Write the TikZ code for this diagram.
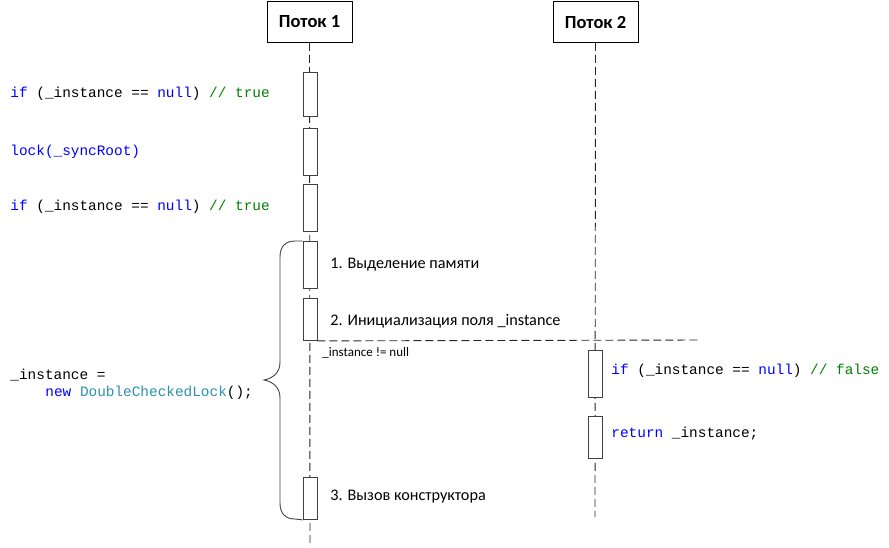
\documentclass[tikz,border=0pt]{standalone}
\usepackage{fontspec}
\setmainfont{Carlito}
\setmonofont{Liberation Mono}
\usetikzlibrary{positioning}
\definecolor{kword}{RGB}{0,0,255}
\definecolor{cmnt}{RGB}{0,128,0}
\definecolor{ctype}{RGB}{43,145,175}
\newcommand{\kw}[1]{\textcolor{kword}{#1}}
\newcommand{\cm}[1]{\textcolor{cmnt}{#1}}
\newcommand{\ty}[1]{\textcolor{ctype}{#1}}

\begin{document}
\begin{tikzpicture}[x=1pt,y=-1pt,line width=0.9pt]
	%
	% `thread' is the head box of a lifeline.
	% `act' is an activation box on a lifeline.
	% `life' is for the dashed lifelines and the sync line.
	\tikzstyle{thread} = [draw,fill=white,minimum width=85pt,minimum height=41pt,font=\fontsize{18.5}{22}\selectfont\bfseries]
	\tikzstyle{act} = [draw=black!75,fill=white,minimum width=14pt,inner sep=0pt,anchor=north]
	\tikzstyle{life} = [draw=black!85,dash pattern=on 8pt off 4pt]
	\tikzstyle{code} = [anchor=west,inner sep=0pt,font=\ttfamily\fontsize{14.4}{17}\selectfont]
	\tikzstyle{stepnote} = [anchor=west,inner sep=0pt,font=\fontsize{16.2}{19}\selectfont]
	%
	\useasboundingbox (0,0) rectangle (889,547);
	%
	% Threads
	\node[thread] (head1) at (309.5,22) {Поток 1};
	\node[thread] (head2) at (595.5,22) {Поток 2};
	\coordinate (end1) at (310,547);
	\coordinate (end2) at (595,517);
	\draw[life] (head1) -- (end1);
	\draw[life] (head2) -- (end2);
	%
	% Thread 1
	\node[act,minimum height=44pt] (act11) at (310,72) {};
	\node[act,minimum height=47pt] (act12) at (310,128) {};
	\node[act,minimum height=47pt] (act13) at (310,184) {};
	\node[act,minimum height=47pt] (act14) at (310,241) {};
	\node[act,minimum height=42pt] (act15) at (310,298) {};
	\node[act,minimum height=42pt] (act16) at (310,477) {};
	%
	% Thread 2
	\node[act,minimum height=47pt] (act21) at (595,350) {};
	\node[act,minimum height=42pt] (act22) at (595,416) {};
	%
	% Sync line
	\coordinate (sync) at (700,340);
	\draw[life] (act15.south east) -- (sync);
	\node[anchor=north west,inner sep=0pt,font=\fontsize{13}{15}\selectfont] (cond) at (322,347) {\_instance != null};
	%
	% Code of thread 1
	\node[code] (if1) at (10,94) {\kw{if} (\_instance == \kw{null}) \cm{// true}};
	\node[code] (lock) at (10,152) {\kw{lock(\_syncRoot)}};
	\node[code] (if2) at (10,207) {\kw{if} (\_instance == \kw{null}) \cm{// true}};
	\node[code] (assign) at (10,375) {\_instance =};
	\node[code] (newobj) at (45,393) {\kw{new} \ty{DoubleCheckedLock}();};
	%
	% Steps of thread 1
	\node[stepnote] (step1) at (330,265) {1. Выделение памяти};
	\node[stepnote] (step2) at (330,321) {2. Инициализация поля \_instance};
	\node[stepnote] (step3) at (330,497) {3. Вызов конструктора};
	%
	% Code of thread 2
	\node[code] (if3) at (611,371) {\kw{if} (\_instance == \kw{null}) \cm{// false}};
	\node[code] (ret) at (611,434) {\kw{return} \_instance;};
	%
	% Brace
	\draw[black!75] (act14.north west) -- (295,241)
		.. controls (285,241) and (280,247) .. (280,257) -- (280,362)
		.. controls (280,372) and (274,378) .. (264,380)
		.. controls (274,382) and (280,388) .. (280,398) -- (280,503)
		.. controls (280,513) and (285,519) .. (295,519) -- (act16.south west);
	%
\end{tikzpicture}
\end{document}
